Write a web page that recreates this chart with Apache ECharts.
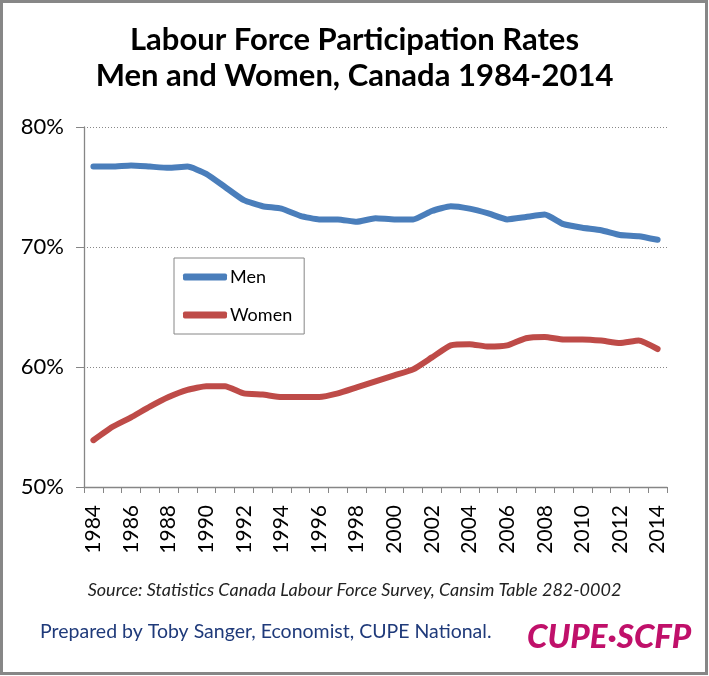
<!DOCTYPE html>
<html>
<head>
<meta charset="utf-8">
<script src="https://cdn.jsdelivr.net/npm/echarts@6/dist/echarts.min.js"></script>
<style>
html,body{margin:0;padding:0;background:#fff;}
#chart{width:709px;height:676px;}
</style>
</head>
<body>
<div id="chart"></div>
<script>
var years = [];
for (var y = 1984; y <= 2014; y++) years.push(String(y));
var men = [76.7,76.7,76.8,76.7,76.6,76.7,76.1,75.0,73.9,73.4,73.2,72.6,72.3,72.3,72.1,72.4,
           72.3,72.3,73.0,73.4,73.2,72.8,72.3,72.5,72.7,71.9,71.6,71.4,71.0,70.9,70.6];
var women = [53.9,55.0,55.8,56.7,57.5,58.1,58.4,58.4,57.8,57.7,57.5,57.5,57.5,57.8,58.3,58.8,
             59.3,59.8,60.8,61.8,61.9,61.7,61.8,62.4,62.5,62.3,62.3,62.2,62.0,62.2,61.5];
var seriesNames = ['Men','Women'];
var titleLines = ['Labour Force Participation Rates','Men and Women, Canada 1984-2014'];
var sourceText = 'Source: Statistics Canada Labour Force Survey, Cansim Table 282-0002';
var preparedText = 'Prepared by Toby Sanger, Economist, CUPE National.';
var logoText = 'CUPE\u00B7SCFP';

var FONT = 'Lato, "Open Sans", sans-serif';
var chart = echarts.init(document.getElementById('chart'), null, {renderer:'canvas'});
chart.setOption({
  backgroundColor:'#ffffff',
  animation:false,
  textStyle:{fontFamily:FONT},
  title:{
    text: titleLines.join('\n'),
    left:'center',
    top:17,
    textStyle:{fontFamily:FONT,fontSize:31,fontWeight:'bold',color:'#000',lineHeight:36}
  },
  legend:{
    data:seriesNames,
    orient:'vertical',
    left:174, top:258,
    padding:[10,12,10,9],
    icon:'roundRect',
    itemWidth:44, itemHeight:7, itemGap:20,
    borderColor:'#868686', borderWidth:1,
    textStyle:{fontFamily:FONT,fontSize:18,color:'#000',padding:[0,0,0,-2]}
  },
  grid:{left:84,right:42,top:127,bottom:189,containLabel:false},
  xAxis:{
    type:'category',
    data:years,
    boundaryGap:true,
    axisLine:{lineStyle:{color:'#868686',width:1.3}},
    axisTick:{show:true,interval:0,length:6,lineStyle:{color:'#868686'}},
    axisLabel:{interval:1,rotate:90,fontSize:21,color:'#000',margin:18,fontFamily:FONT}
  },
  yAxis:{
    type:'value',
    min:50,max:80,interval:10,
    axisLine:{show:true,lineStyle:{color:'#868686',width:1.3}},
    axisTick:{show:true,length:8,lineStyle:{color:'#868686'}},
    axisLabel:{formatter:'{value}%',fontSize:22,color:'#000',margin:20,fontFamily:FONT},
    splitLine:{show:true,lineStyle:{color:'#888',type:[1,2],width:1}}
  },
  series:[
    {name:seriesNames[0],type:'line',data:men,symbol:'none',smooth:0.15,
     lineStyle:{color:'#4A7EBB',width:6,cap:'round',join:'round'},itemStyle:{color:'#4A7EBB'}},
    {name:seriesNames[1],type:'line',data:women,symbol:'none',smooth:0.15,
     lineStyle:{color:'#BE4B48',width:6,cap:'round',join:'round'},itemStyle:{color:'#BE4B48'}}
  ],
  graphic:[
    {type:'rect',shape:{x:1.5,y:1.5,width:705,height:672},style:{fill:null,stroke:'#878787',lineWidth:3},silent:true},
    {type:'text',left:'center',top:581,style:{text:sourceText,fontFamily:FONT,fontStyle:'italic',fontSize:18,fill:'#222'}},
    {type:'text',left:40,top:622,style:{text:preparedText,fontFamily:FONT,fontSize:19.5,fill:'#1F3A7A'}},
    {type:'text',left:527,top:621,style:{text:logoText,fontFamily:FONT,fontStyle:'italic',fontWeight:900,fontSize:33,fill:'#C0106A'}}
  ]
});
</script>
</body>
</html>
